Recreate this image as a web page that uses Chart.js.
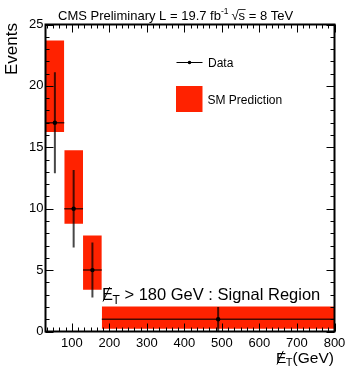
<!DOCTYPE html>
<html>
<head>
<meta charset="utf-8">
<script src="https://cdn.jsdelivr.net/npm/chart.js@4.4.1/dist/chart.umd.min.js"></script>
<style>
body { margin: 0; background: #fff; }
#wrap { width: 350px; height: 368px; }
</style>
</head>
<body>
<div id="wrap"><canvas id="metChart"></canvas></div>
<script>
// MET bins (GeV) and the SM prediction band per bin
const binLo = [30, 80, 130, 180];
const binHi = [80, 130, 180, 800];
const smUp = [23.7, 14.75, 7.82, 2.04];
const smDown = [16.25, 8.78, 3.4, 0.22];
// observed events
const dataX = [55, 105, 155, 490];
const dataY = [17, 10, 5, 1];
const dataErr = [4.12, 3.16, 2.24, 1.0];
const xTicks = [100, 200, 300, 400, 500, 600, 700, 800];
const yTicks = [0, 5, 10, 15, 20, 25];

const RED = '#ff2200';
const ERR = 'rgba(0,0,0,0.72)';
const FONT = '"Liberation Sans", Arial, Helvetica, sans-serif';

let datasets = [];
binLo.forEach((lo, i) => {
    datasets.push({ type: 'line', data: [{x: lo, y: smUp[i]}, {x: binHi[i], y: smUp[i]}],
        fill: {value: smDown[i]}, backgroundColor: RED, borderWidth: 0, pointRadius: 0, order: 3 });
});
dataX.forEach((x, i) => {
    datasets.push({ type: 'line', data: [{x, y: dataY[i] - dataErr[i]}, {x, y: dataY[i] + dataErr[i]}],
        borderColor: ERR, borderWidth: 2, pointRadius: 0, fill: false, order: 2 });
    datasets.push({ type: 'line', data: [{x: binLo[i], y: dataY[i]}, {x: binHi[i], y: dataY[i]}],
        borderColor: ERR, borderWidth: 1.5, pointRadius: 0, fill: false, order: 2 });
});
datasets.push({ type: 'scatter', data: dataX.map((x, i) => ({x, y: dataY[i]})),
    backgroundColor: '#000', pointRadius: 2.2, borderWidth: 0, order: 1 });

function seg(ctx, x1, y1, x2, y2) {
    ctx.beginPath(); ctx.moveTo(x1, y1); ctx.lineTo(x2, y2); ctx.stroke();
}

// E with a slash through it, then subscript T; returns x after it
function metSymbol(ctx, x0, base, size) {
    ctx.font = size + 'px ' + FONT;
    ctx.textAlign = 'left';
    ctx.fillText('E', x0, base);
    const w = ctx.measureText('E').width;
    ctx.lineWidth = 1;
    seg(ctx, x0 + 1, base + 1.5, x0 + w * 0.7, base - size * 0.78);
    ctx.font = Math.round(size * 0.7) + 'px ' + FONT;
    ctx.fillText('T', x0 + w - 0.5, base + size * 0.22);
    return x0 + w - 0.5 + ctx.measureText('T').width;
}

const decor = {
    id: 'decor',
    afterDatasetsDraw(chart) {
        const {ctx, chartArea: a, scales: {x, y}} = chart;
        ctx.save();
        ctx.strokeStyle = '#000';
        ctx.fillStyle = '#000';
        ctx.lineWidth = 1;
        for (let v = 0; v <= 25; v++) {
            const len = v % 5 === 0 ? 8 : 4;
            const py = Math.round(y.getPixelForValue(v)) + 0.5;
            seg(ctx, a.left, py, a.left + len, py);
            seg(ctx, a.right, py, a.right - len, py);
        }
        for (let n = 2; n <= 48; n++) {
            const len = n % 6 === 0 ? 8 : 4;
            const px = Math.round(x.getPixelForValue(n * 100 / 6)) + 0.5;
            seg(ctx, px, a.bottom, px, a.bottom - len);
            seg(ctx, px, a.top, px, a.top + len);
        }
        ctx.lineWidth = 2;
        ctx.strokeRect(a.left, a.top, a.right - a.left, a.bottom - a.top);

        // title
        ctx.textBaseline = 'alphabetic';
        ctx.textAlign = 'left';
        let tx = 58;
        ctx.font = '13px ' + FONT;
        ctx.fillText('CMS Preliminary L = 19.7 fb', tx, 19.5);
        tx += ctx.measureText('CMS Preliminary L = 19.7 fb').width;
        ctx.font = '8.5px ' + FONT;
        ctx.fillText('-1', tx, 14);
        tx += ctx.measureText('-1').width + 3;
        ctx.font = '13px ' + FONT;
        ctx.fillText('\u221As', tx, 19.5);
        const sq = ctx.measureText('\u221A').width;
        const sw = ctx.measureText('s').width;
        ctx.lineWidth = 0.8;
        seg(ctx, tx + sq - 0.5, 9.5, tx + sq + sw + 0.5, 9.5);
        tx += ctx.measureText('\u221As').width;
        ctx.fillText(' = 8 TeV', tx, 19.5);

        // y axis title
        ctx.save();
        ctx.translate(17, 23);
        ctx.rotate(-Math.PI / 2);
        ctx.font = '17px ' + FONT;
        ctx.textAlign = 'right';
        ctx.fillText('Events', 0, 0);
        ctx.restore();

        // x axis title
        let ex = metSymbol(ctx, 276, 363, 15.5);
        ctx.font = '15.5px ' + FONT;
        ctx.fillText('(GeV)', ex, 363);

        // region label
        ex = metSymbol(ctx, 102, 300, 16.5);
        ctx.font = '16.5px ' + FONT;
        ctx.fillText(' > 180 GeV : Signal Region', ex, 300);

        // legend
        ctx.strokeStyle = '#000';
        ctx.lineWidth = 1;
        seg(ctx, 176.5, 62.5, 202.5, 62.5);
        ctx.beginPath(); ctx.arc(189.5, 62.5, 1.8, 0, Math.PI * 2); ctx.fill();
        ctx.font = '12px ' + FONT;
        ctx.fillText('Data', 208, 66.5);
        ctx.fillStyle = RED;
        ctx.fillRect(176, 86, 26.5, 26);
        ctx.fillStyle = '#000';
        ctx.fillText('SM Prediction', 207.5, 104);
        ctx.restore();
    }
};

new Chart(document.getElementById('metChart'), {
    type: 'scatter',
    data: { datasets },
    options: {
        responsive: true,
        maintainAspectRatio: false,
        animation: false,
        layout: { padding: { left: 0, top: 24.5, right: 15.5, bottom: 0 } },
        plugins: { legend: { display: false }, tooltip: { enabled: false } },
        scales: {
            x: {
                type: 'linear', min: 30, max: 800,
                grid: { display: false, drawTicks: false },
                border: { display: false },
                afterBuildTicks: s => { s.ticks = xTicks.map(v => ({value: v})); },
                afterFit: s => { s.height = 36.5; },
                ticks: { color: '#000', padding: 4, maxRotation: 0, font: { family: FONT, size: 13 } }
            },
            y: {
                type: 'linear', min: 0, max: 25,
                grid: { display: false, drawTicks: false },
                border: { display: false },
                afterBuildTicks: s => { s.ticks = yTicks.map(v => ({value: v})); },
                afterFit: s => { s.width = 45.5; },
                ticks: { color: '#000', padding: 2, font: { family: FONT, size: 13 } }
            }
        }
    },
    plugins: [decor]
});
</script>
</body>
</html>
